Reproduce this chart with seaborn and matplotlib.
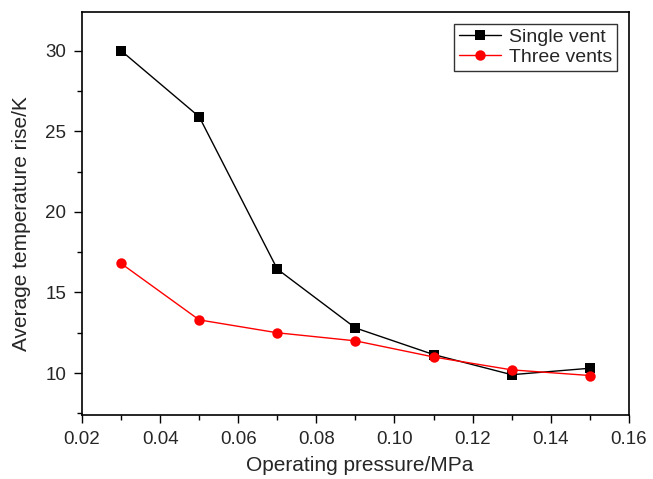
import matplotlib
matplotlib.use('Agg')
import matplotlib.pyplot as plt
import seaborn as sns
import pandas as pd
from matplotlib.ticker import MultipleLocator

pressure = [0.03, 0.05, 0.07, 0.09, 0.11, 0.13, 0.15]
single_vent = [30.0, 25.9, 16.45, 12.8, 11.15, 9.9, 10.3]
three_vents = [16.8, 13.3, 12.5, 12.0, 11.0, 10.2, 9.85]

df = pd.DataFrame({'pressure': pressure * 2,
                   'rise': single_vent + three_vents,
                   'case': ['Single vent'] * 7 + ['Three vents'] * 7})

sns.set_style('ticks')
plt.rcParams['font.family'] = ['Liberation Sans', 'DejaVu Sans']

fig = plt.figure(figsize=(6.53, 4.79), dpi=100)
ax = fig.add_axes([0.1256, 0.1336, 0.8374, 0.8414])

sns.lineplot(data=df, x='pressure', y='rise', hue='case', style='case',
             palette={'Single vent': 'black', 'Three vents': 'red'},
             markers={'Single vent': 's', 'Three vents': 'o'}, dashes=False,
             markersize=7.5, markeredgewidth=0, linewidth=1, ax=ax)

ax.set_xlim(0.02, 0.16)
ax.set_ylim(7.4, 32.4)
ax.xaxis.set_major_locator(MultipleLocator(0.02))
ax.xaxis.set_minor_locator(MultipleLocator(0.01))
ax.yaxis.set_major_locator(MultipleLocator(5))
ax.yaxis.set_minor_locator(MultipleLocator(2.5))
ax.set_xticklabels([f'{v:.2f}' for v in ax.get_xticks()])
ax.tick_params(which='major', direction='out', length=6, width=1, labelsize=13.5,
               color='black', pad=5.5)
ax.tick_params(which='minor', direction='out', length=3.5, width=1, color='black')
for s in ax.spines.values():
    s.set_color('black')
    s.set_linewidth(1.2)

ax.set_xlabel('Operating pressure/MPa', fontsize=15, labelpad=6, x=0.507)
ax.set_ylabel('Average temperature rise/K', fontsize=15, labelpad=10, y=0.475)

leg = ax.legend(loc='upper right', fontsize=14, frameon=True, fancybox=False,
                edgecolor='black', borderaxespad=0.6, handlelength=2.2,
                borderpad=0.25, labelspacing=0.1, handletextpad=0.4)
leg.get_frame().set_linewidth(1)

fig.savefig('out.png', dpi=100)
